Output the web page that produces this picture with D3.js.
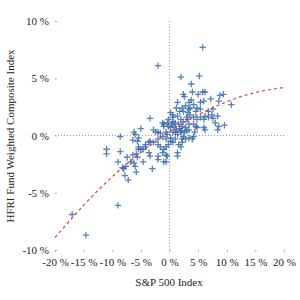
<!DOCTYPE html>
<html>
<head>
<meta charset="utf-8">
<script src="https://cdn.jsdelivr.net/npm/d3@7"></script>
<style>
  body { margin: 0; background: #fff; }
  text { font-family: "Liberation Serif", "Times New Roman", serif; }
</style>
</head>
<body>
<div class="chart"></div>
<script>
// monthly returns in %, S&P 500 vs HFRI
var sp500 = [-2.0,5.8,2.0,5.2,3.8,2.4,2.6,5.0,5.8,6.2,4.0,7.2,1.4,3.4,4.2,3.8,5.4,6.0,8.6,2.2,
  2.4,4.8,5.4,6.8,7.6,3.2,3.6,8.4,0.2,0.6,0.6,1.4,2.0,2.4,3.2,4.2,4.8,5.4,6.2,6.8,
  7.6,-0.4,-0.2,0.6,1.0,1.6,2.2,2.8,3.4,4.2,4.8,6.0,6.2,8.4,8.6,-3.4,-1.2,-1.0,-6.2,-6.0,
  -5.0,-2.8,-2.4,-2.0,-1.6,-1.2,-2.0,-0.6,-0.4,0.2,0.6,1.0,1.4,2.0,2.4,2.8,3.4,4.0,4.2,0.2,
  0.6,-3.4,-2.8,-2.0,-1.6,-1.0,-1.2,-0.6,1.4,1.4,2.2,2.2,-8.6,-11.0,-11.0,-8.6,-6.4,-5.6,-5.4,-9.0,
  -7.4,-6.8,-6.4,-5.8,-5.4,-5.4,-4.2,-4.2,-3.6,-8.2,-8.0,-7.6,-6.2,-6.0,-5.8,-7.8,-7.2,-4.6,-9.0,-17.0,
  -14.6,-3.0,-2.0,-2.0,-1.0,-0.6,-0.4,8.0,9.6,10.8,9.4,8.8,-1.0,6.0,4.6,7.4,-3.4,-3.6,-4.6,-5.0,
  -5.6,-0.2,0.2,0.8,1.2,1.8,2.0,2.6,3.0,3.4,0.4,-0.6,-0.2,1.0,1.6,2.0,-0.6,3.0,1.8,1.2,
  2.8,3.6,4.6,3.4,4.4]
var hfri = [6.1,7.7,5.1,5.2,4.5,3.6,3.4,3.6,3.8,3.8,3.8,3.2,2.9,2.9,2.7,3.1,2.9,3.0,3.0,2.4,
  2.1,2.4,2.3,2.1,2.3,2.0,1.8,1.7,2.0,1.8,1.6,1.7,1.4,1.2,1.4,1.6,1.4,1.6,1.7,1.6,
  1.5,1.1,0.8,1.2,1.1,1.0,0.8,0.7,1.0,1.0,0.7,0.7,0.5,0.5,0.8,1.5,1.1,1.0,0.3,0.1,
  0.6,0.5,0.3,0.3,0.2,-0.1,-0.3,0.3,0.1,-0.2,0.3,0.3,0.1,0.3,-0.1,-0.3,-0.2,-0.3,-0.1,-0.5,
  -0.6,-0.5,-0.6,-0.8,-1.0,-1.2,-1.5,-1.7,-1.5,-1.8,-0.3,-0.6,-0.1,-1.2,-1.6,-1.4,-0.4,-0.5,-0.2,-2.3,
  -1.9,-2.3,-1.7,-1.6,-1.2,-1.0,-0.8,-1.0,-0.6,-2.8,-2.9,-2.7,-2.4,-2.7,-3.2,-3.5,-3.9,-2.3,-6.1,-6.9,
  -8.7,-2.9,-1.8,-2.1,-2.3,-2.3,-1.8,1.1,0.9,2.7,3.6,3.5,0.8,1.4,0.8,1.8,-1.8,-1.5,-1.2,-1.2,
  -1.9,1.4,0.7,0.8,0.5,0.6,0.4,0.3,0.4,0.5,1.0,-0.3,-0.8,-0.3,-0.8,-1.0,-1.0,1.6,2.1,2.4,
  2.6,2.4,2.1,2.3,0.3]

// fitted trend
var fitX = [-20, -15, -10, -5, 0, 5, 10, 15, 20]
var fitY = [-8.9, -6.1, -3.6, -1.5, 0.35, 1.8, 2.95, 3.75, 4.2]

var xTicks = [-20, -15, -10, -5, 0, 5, 10, 15, 20]
var yTicks = [-10, -5, 0, 5, 10]

var svg = d3.select(".chart").append("svg").attr("width", 300).attr("height", 300)

var x = d3.scaleLinear().domain([-20, 20]).range([55, 284])
var y = d3.scaleLinear().domain([-10, 10]).range([250, 21])

var fmt = function(d) { return d + " %" }

var xAxis = svg.append("g").attr("transform", "translate(0,250)")
  .call(d3.axisBottom(x).tickValues(xTicks).tickFormat(fmt).tickSize(2).tickPadding(6))
var yAxis = svg.append("g").attr("transform", "translate(57,0)")
  .call(d3.axisLeft(y).tickValues(yTicks).tickFormat(fmt).tickSize(2).tickPadding(6))

svg.selectAll(".domain").remove()
svg.selectAll(".tick line").attr("stroke", "#aaa")
svg.selectAll(".tick text").attr("fill", "#222").style("font-size", "11px")
  .style("font-family", "'Liberation Serif', serif")

// zero lines
svg.append("line").attr("x1", x(-20)).attr("x2", x(20)).attr("y1", y(0)).attr("y2", y(0))
  .attr("stroke", "#999").attr("stroke-width", 1).attr("stroke-dasharray", "1,2")
svg.append("line").attr("x1", x(0)).attr("x2", x(0)).attr("y1", y(10)).attr("y2", y(-10))
  .attr("stroke", "#999").attr("stroke-width", 1).attr("stroke-dasharray", "1,2")

var pts = sp500.map(function(d, i) { return [d, hfri[i]] })

var marks = svg.append("g").attr("stroke", "#2f62aa").attr("stroke-width", 1.3).attr("stroke-opacity", 0.8)
marks.selectAll("path").data(pts).enter().append("path")
  .attr("d", function(d) {
    var cx = x(d[0]), cy = y(d[1])
    return "M" + (cx - 3.2) + "," + cy + "H" + (cx + 3.2) + "M" + cx + "," + (cy - 3.2) + "V" + (cy + 3.2)
  })

var line = d3.line().x(function(d) { return x(d[0]) }).y(function(d) { return y(d[1]) }).curve(d3.curveNatural)
svg.append("path").datum(fitX.map(function(d, i) { return [d, fitY[i]] }))
  .attr("d", line).attr("fill", "none").attr("stroke", "#e8383a").attr("stroke-width", 1.2)
  .attr("stroke-dasharray", "3,3")

svg.append("text").attr("x", 169).attr("y", 286).attr("text-anchor", "middle")
  .style("font-size", "11px").attr("fill", "#222").text("S&P 500 Index")
svg.append("text").attr("transform", "translate(14,136) rotate(-90)").attr("text-anchor", "middle")
  .style("font-size", "11px").attr("fill", "#222").text("HFRI Fund Weighted Composite Index")
</script>
</body>
</html>
